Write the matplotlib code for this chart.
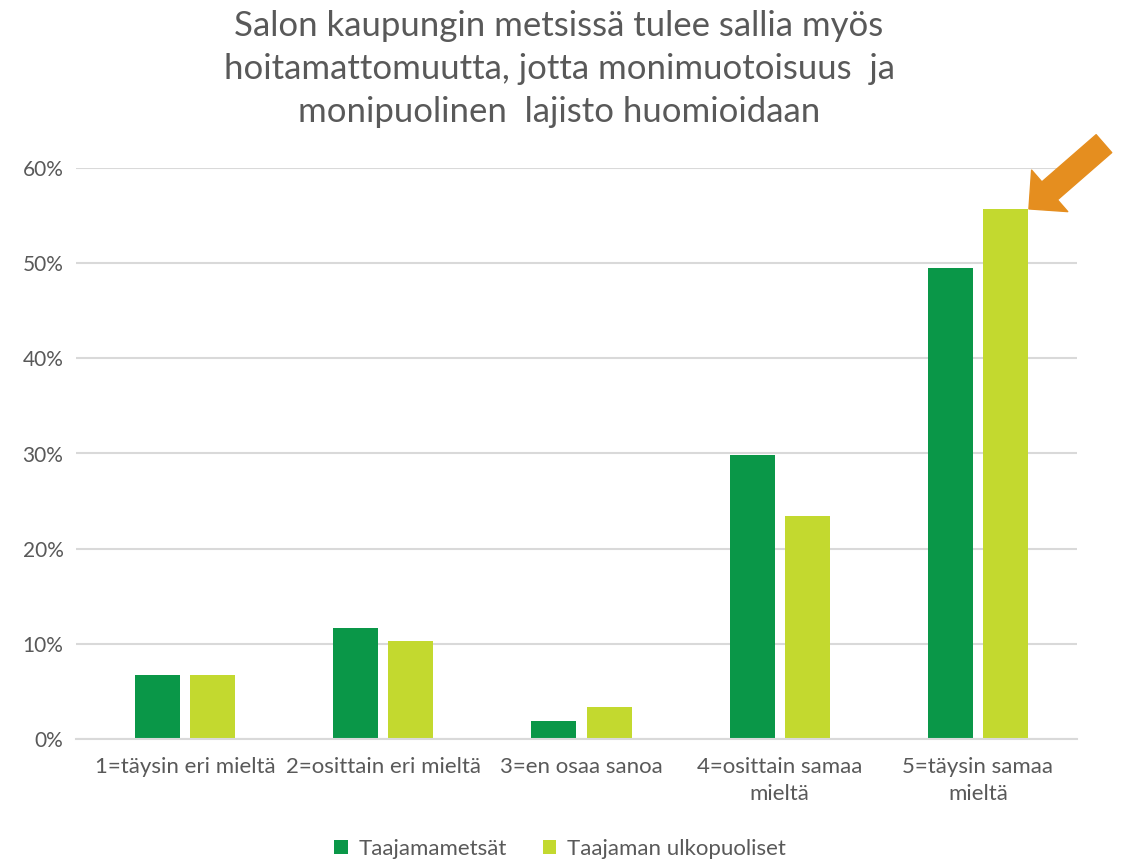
import numpy as np
import matplotlib.pyplot as plt
from matplotlib.ticker import PercentFormatter

categories = ["1=täysin eri mieltä", "2=osittain eri mieltä", "3=en osaa sanoa",
              "4=osittain samaa\nmieltä", "5=täysin samaa\nmieltä"]
taajama = [0.067, 0.117, 0.019, 0.298, 0.495]
ulkopuoliset = [0.067, 0.103, 0.034, 0.234, 0.557]
series_names = ["Taajamametsät", "Taajaman ulkopuoliset"]
yticks = [0, 0.1, 0.2, 0.3, 0.4, 0.5, 0.6]

plt.rcParams['font.family'] = ['Lato', 'DejaVu Sans']
txt = '#595959'

fig = plt.figure(figsize=(11.25, 8.63), dpi=100)
ax = fig.add_axes([76/1125, 124/863, 1001/1125, 571/863])

x = np.arange(len(categories))
w = 0.227
off = 0.139
b1 = ax.bar(x - off, taajama, w, color='#0A9748', label=series_names[0])
b2 = ax.bar(x + off, ulkopuoliset, w, color='#C3D92F', label=series_names[1])

ax.set_xlim(-0.55, len(categories) - 0.5)
ax.set_ylim(0, 0.6)
ax.set_yticks(yticks)
ax.yaxis.set_major_formatter(PercentFormatter(1.0, decimals=0))
ax.set_xticks(x)
ax.set_xticklabels(categories, fontsize=16, color=txt, linespacing=1.45)
ax.tick_params(axis='y', labelsize=15, labelcolor=txt, length=0, pad=9)
ax.tick_params(axis='x', length=0, pad=13)
ax.grid(axis='y', color='#D9D9D9', linewidth=1.5)
ax.set_axisbelow(True)
for s in ['top', 'right', 'left']:
    ax.spines[s].set_visible(False)
ax.spines['bottom'].set_color('#D9D9D9')
ax.spines['bottom'].set_linewidth(1.5)

fig.text(0.497, 0.988, "Salon kaupungin metsissä tulee sallia myös\n"
         "hoitamattomuutta, jotta monimuotoisuus  ja\n"
         "monipuolinen  lajisto huomioidaan",
         ha='center', va='top', fontsize=25, color=txt, linespacing=1.42)

# arrow pointing at the highest bar
ax.annotate('', xy=(x[-1] + off + w/2 + 0.005, ulkopuoliset[-1]), xycoords='data',
            xytext=(54, 47), textcoords='offset points',
            arrowprops=dict(arrowstyle='simple,head_length=1.1,head_width=2.2,tail_width=0.95',
                            color='#E58E1F', mutation_scale=18, shrinkA=0, shrinkB=0),
            annotation_clip=False)

fig.legend(handles=[b1, b2], loc='center', bbox_to_anchor=(0.498, 14/863),
           ncol=2, frameon=False, fontsize=16, labelcolor=txt,
           handlelength=0.6, handleheight=0.6, columnspacing=1.6, handletextpad=0.5)

fig.savefig('out.png', dpi=100)
